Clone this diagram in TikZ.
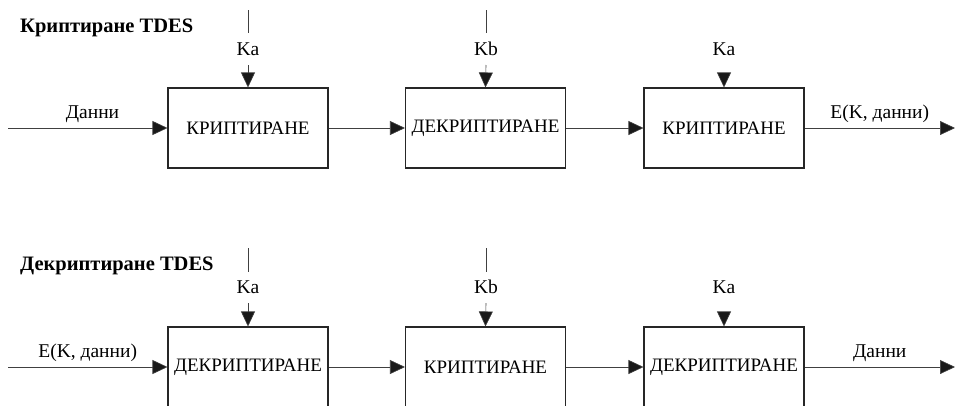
\documentclass[tikz,border=0pt]{standalone}
\usepackage{fontspec}
\setmainfont{Liberation Serif}
\usetikzlibrary{arrows.meta}
\begin{document}
\begin{tikzpicture}[x=1pt,y=-1pt,
  blk/.style={draw=black!85,line width=1.1pt,minimum width=160pt,minimum height=80pt,inner sep=0pt,font=\fontsize{19}{21}\selectfont},
  lbl/.style={inner sep=0pt,font=\fontsize{19.5}{21}\selectfont},
  ttl/.style={inner sep=0pt,anchor=west,font=\fontsize{20.5}{22}\selectfont\bfseries},
  conn/.style={draw=black!75,line width=0.6pt},
  arr/.style={conn,-{Triangle[length=15pt,width=14pt,fill=black!90]}}]
\useasboundingbox (0,0) rectangle (955,405);
% ---- encryption ----
\node[ttl] (t1) at (20,28) {Криптиране TDES};
\node[blk] (a1) at (248,128) {КРИПТИРАНЕ};
\node[blk] (a2) at (485.5,128) {ДЕКРИПТИРАНЕ};
\node[blk] (a3) at (724,128) {КРИПТИРАНЕ};
\node[lbl] (ka1) at (248,49) {Ka};
\node[lbl] (kb1) at (486,49) {Kb};
\node[lbl] (ka2) at (724,49) {Ka};
\coordinate (ka1t) at (248,10);
\coordinate (kb1t) at (486,10);
\coordinate (ka1b) at (248,65);
\coordinate (kb1b) at (486,65);
\coordinate (ka2b) at (724,74);
\draw[conn] (ka1t) -- (248,33);
\draw[conn] (kb1t) -- (486,33);
\draw[arr] (ka1b) -- (a1.north);
\draw[arr] (kb1b) -- (a2.north);
\draw[arr] (ka2b) -- (a3.north);
\coordinate (in1) at (8,128);
\coordinate (out1) at (955,128);
\draw[arr] (in1) -- (a1.west) node[lbl,pos=0.53,above=5pt] (d1) {Данни};
\draw[arr] (a1.east) -- (a2.west);
\draw[arr] (a2.east) -- (a3.west);
\draw[arr] (a3.east) -- (out1) node[lbl,pos=0.5,above=5pt] (e1) {E(K, данни)};
% ---- decryption ----
\node[ttl] (t2) at (20,266) {Декриптиране TDES};
\node[blk] (b1) at (248,367) {ДЕКРИПТИРАНЕ};
\node[blk] (b2) at (485.5,367) {КРИПТИРАНЕ};
\node[blk] (b3) at (724,367) {ДЕКРИПТИРАНЕ};
\node[lbl] (ka3) at (248,287) {Ka};
\node[lbl] (kb2) at (486,287) {Kb};
\node[lbl] (ka4) at (724,287) {Ka};
\coordinate (ka3t) at (248,248);
\coordinate (kb2t) at (486,248);
\coordinate (ka3b) at (248,303);
\coordinate (kb2b) at (486,303);
\coordinate (ka4b) at (724,312);
\draw[conn] (ka3t) -- (248,272);
\draw[conn] (kb2t) -- (486,272);
\draw[arr] (ka3b) -- (b1.north);
\draw[arr] (kb2b) -- (b2.north);
\draw[arr] (ka4b) -- (b3.north);
\coordinate (in2) at (8,367);
\coordinate (out2) at (955,367);
\draw[arr] (in2) -- (b1.west) node[lbl,pos=0.5,above=5pt] (e2) {E(K, данни)};
\draw[arr] (b1.east) -- (b2.west);
\draw[arr] (b2.east) -- (b3.west);
\draw[arr] (b3.east) -- (out2) node[lbl,pos=0.5,above=5pt] (d2) {Данни};
\end{tikzpicture}
\end{document}
